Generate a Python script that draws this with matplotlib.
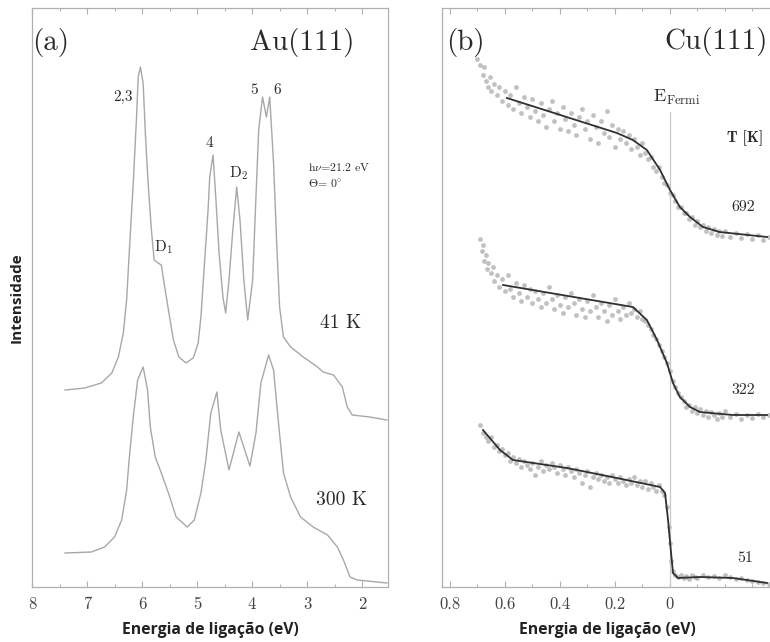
import matplotlib
matplotlib.use("Agg")
import matplotlib.pyplot as plt
from matplotlib.ticker import MultipleLocator, FixedLocator

plt.rcParams['mathtext.fontset'] = 'cm'
plt.rcParams['axes.formatter.use_mathtext'] = True

# ---------------- Panel (a): Au(111) spectra ----------------
au_41K_E = [7.40, 7.04, 6.74, 6.55, 6.43, 6.34, 6.28, 6.23, 6.16, 6.10, 6.07, 6.03, 5.98,
            5.94, 5.89, 5.83, 5.78, 5.71, 5.65, 5.60, 5.52, 5.43, 5.33, 5.20, 5.07, 4.98,
            4.93, 4.87, 4.80, 4.77, 4.71, 4.66, 4.60, 4.53, 4.48, 4.42, 4.35, 4.28, 4.22,
            4.15, 4.08, 3.99, 3.93, 3.88, 3.81, 3.74, 3.68, 3.61, 3.55, 3.50, 3.43, 3.30,
            3.07, 2.81, 2.71, 2.52, 2.36, 2.27, 2.18, 1.86, 1.55]
au_41K_I = [197, 199, 204, 214, 230, 254, 287, 337, 404, 470, 510, 520, 504,
            454, 404, 357, 327, 324, 322, 304, 277, 247, 230, 224, 229, 244,
            270, 320, 377, 410, 432, 390, 334, 290, 274, 307, 357, 400, 367,
            307, 267, 307, 390, 457, 490, 470, 490, 424, 340, 280, 250, 240,
            230, 220, 215, 212, 200, 180, 172, 170, 167]

au_300K_E = [7.40, 6.92, 6.68, 6.50, 6.37, 6.28, 6.23, 6.16, 6.08, 5.98, 5.90, 5.85, 5.76,
             5.65, 5.52, 5.38, 5.18, 5.05, 4.93, 4.84, 4.75, 4.64, 4.57, 4.42, 4.24, 4.04,
             3.93, 3.84, 3.70, 3.61, 3.52, 3.43, 3.30, 3.12, 2.89, 2.63, 2.45, 2.34, 2.22,
             2.09, 1.55]
au_300K_I = [34, 35, 40, 50, 67, 97, 130, 170, 207, 220, 197, 160, 130,
             114, 94, 70, 60, 67, 94, 127, 174, 195, 157, 117, 155, 121,
             154, 204, 232, 217, 164, 114, 90, 70, 60, 52, 40, 27, 10,
             7, 4]

au_xticks = [8, 7, 6, 5, 4, 3, 2]

# ---------------- Panel (b): Cu(111) Fermi edges ----------------
cu_692_fit_E = [0.593, 0.193, 0.135, 0.084, 0.036, 0.0, -0.036, -0.073, -0.12, -0.18, -0.353]
cu_692_fit_I = [489, 454, 447, 437, 417, 397, 380, 370, 360, 355, 350]
cu_692_E = [0.70, 0.69, 0.68, 0.675, 0.67, 0.66, 0.655, 0.65, 0.64, 0.63, 0.62, 0.61, 0.60,
            0.59, 0.58, 0.57, 0.56, 0.55, 0.54, 0.53, 0.52, 0.51, 0.50, 0.49, 0.48, 0.47,
            0.46, 0.45, 0.44, 0.43, 0.42, 0.41, 0.40, 0.39, 0.38, 0.37, 0.36, 0.35, 0.34,
            0.33, 0.32, 0.31, 0.30, 0.29, 0.28, 0.27, 0.26, 0.25, 0.24, 0.23, 0.22, 0.21,
            0.20, 0.19, 0.18, 0.17, 0.16, 0.15, 0.14, 0.13, 0.12, 0.11, 0.10, 0.09, 0.08,
            0.07, 0.06, 0.05, 0.04, 0.03, 0.02, 0.01, 0.00, -0.01, -0.02, -0.03, -0.04,
            -0.05, -0.06, -0.07, -0.08, -0.09, -0.10, -0.11, -0.12, -0.13, -0.14, -0.15,
            -0.16, -0.17, -0.18, -0.19, -0.20, -0.22, -0.24, -0.26, -0.28, -0.30, -0.32,
            -0.34, -0.36]
cu_692_I = [528, 522, 512, 520, 506, 500, 510, 496, 503, 492, 500, 486, 496,
            482, 492, 478, 500, 484, 474, 490, 480, 470, 488, 476, 466, 484,
            472, 460, 478, 486, 466, 474, 458, 480, 468, 456, 474, 462, 452,
            470, 478, 458, 466, 448, 472, 460, 444, 466, 454, 476, 450, 462,
            440, 458, 448, 456, 444, 452, 438, 448, 440, 432, 444, 434, 428,
            430, 420, 416, 420, 410, 404, 402, 394, 392, 386, 380, 380,
            374, 374, 368, 370, 362, 366, 360, 362, 356, 360, 354,
            358, 352, 356, 351, 356, 350, 354, 349, 353, 348, 352,
            347, 350]

cu_322_fit_E = [0.607, 0.135, 0.084, 0.047, 0.011, -0.011, -0.036, -0.073, -0.109, -0.229, -0.353]
cu_322_fit_I = [302, 280, 267, 247, 224, 204, 190, 180, 175, 172, 172]
cu_322_E = [0.69, 0.685, 0.68, 0.675, 0.67, 0.665, 0.66, 0.65, 0.645, 0.64, 0.63, 0.62, 0.61,
            0.60, 0.59, 0.58, 0.57, 0.56, 0.55, 0.54, 0.53, 0.52, 0.51, 0.50, 0.49, 0.48,
            0.47, 0.46, 0.45, 0.44, 0.43, 0.42, 0.41, 0.40, 0.39, 0.38, 0.37, 0.36, 0.35,
            0.34, 0.33, 0.32, 0.31, 0.30, 0.29, 0.28, 0.27, 0.26, 0.25, 0.24, 0.23, 0.22,
            0.21, 0.20, 0.19, 0.18, 0.17, 0.16, 0.15, 0.14, 0.13, 0.12, 0.11, 0.10, 0.09,
            0.08, 0.07, 0.06, 0.05, 0.04, 0.03, 0.02, 0.01, 0.00, -0.01, -0.02, -0.03,
            -0.04, -0.05, -0.06, -0.07, -0.08, -0.09, -0.10, -0.11, -0.12, -0.13, -0.14,
            -0.15, -0.16, -0.17, -0.18, -0.19, -0.20, -0.22, -0.24, -0.26, -0.28, -0.30,
            -0.32, -0.34, -0.36]
cu_322_I = [348, 336, 342, 326, 332, 318, 324, 314, 320, 306, 312, 300, 308,
            296, 312, 298, 290, 304, 294, 286, 302, 290, 298, 284, 296, 288,
            280, 294, 284, 300, 288, 278, 292, 282, 274, 290, 280, 294, 284,
            272, 288, 278, 270, 286, 276, 292, 280, 270, 284, 276, 266, 282,
            272, 288, 276, 268, 280, 272, 284, 274, 278, 270, 276, 268, 266,
            262, 258, 252, 248, 242, 236, 230, 224, 216, 206, 200, 194,
            190, 186, 180, 182, 176, 180, 174, 178, 172, 176, 170,
            175, 172, 168, 174, 170, 176, 170, 173, 168, 172, 169,
            173, 170, 172]

cu_51_fit_E = [0.68, 0.618, 0.571, 0.375, 0.193, 0.036, 0.018, 0.007, -0.004, -0.011,
               -0.029, -0.109, -0.229, -0.353]
cu_51_fit_I = [157, 137, 127, 119, 109, 100, 94, 67, 34, 14, 9, 10, 9, 4]
cu_51_E = [0.69, 0.68, 0.67, 0.66, 0.65, 0.64, 0.63, 0.62, 0.61, 0.60, 0.59, 0.58, 0.57,
           0.56, 0.55, 0.54, 0.53, 0.52, 0.51, 0.50, 0.49, 0.48, 0.47, 0.46, 0.45, 0.44,
           0.43, 0.42, 0.41, 0.40, 0.39, 0.38, 0.37, 0.36, 0.35, 0.34, 0.33, 0.32, 0.31,
           0.30, 0.29, 0.28, 0.27, 0.26, 0.25, 0.24, 0.23, 0.22, 0.21, 0.20, 0.19, 0.18,
           0.17, 0.16, 0.15, 0.14, 0.13, 0.12, 0.11, 0.10, 0.09, 0.08, 0.07, 0.06, 0.05,
           0.04, 0.03, 0.02, 0.01, 0.005, 0.00, -0.005, -0.01, -0.02, -0.03, -0.04, -0.05,
           -0.06, -0.07, -0.08, -0.09, -0.10, -0.12, -0.14, -0.16, -0.18, -0.20, -0.22,
           -0.24, -0.26, -0.28, -0.30, -0.32, -0.34, -0.36]
cu_51_I = [162, 154, 150, 146, 150, 140, 142, 136, 138, 132, 134, 126, 130,
           124, 128, 120, 126, 122, 118, 124, 112, 120, 126, 116, 122, 118,
           124, 120, 114, 122, 118, 112, 120, 116, 110, 118, 114, 104, 112,
           116, 100, 110, 114, 108, 112, 106, 110, 104, 112, 108, 104, 110,
           106, 102, 108, 104, 110, 102, 106, 100, 106, 98, 104, 100, 96,
           102, 96, 92, 80, 60, 44, 26, 16, 12, 10, 12, 9,
           11, 8, 12, 10, 9, 12, 10, 11, 9, 12, 10,
           8, 9, 7, 6, 5, 4, 3]

cu_xticks = [0.8, 0.6, 0.4, 0.2, 0]
cu_temps = ['692', '322', '51']

# ---------------- Figure ----------------
W, H = 770, 642
fig = plt.figure(figsize=(W / 100, H / 100), dpi=100)

def px_axes(l, t, r, b):
    return fig.add_axes([l / W, (H - b) / H, (r - l) / W, (b - t) / H])

spine_c = '#b0b0b0'
text_c = '#2a2a2a'
serif = 'cmr10'
sans = 'Open Sans'

axa = px_axes(32, 8, 388, 587)
axb = px_axes(442, 8, 772, 587)

for ax in (axa, axb):
    for s in ax.spines.values():
        s.set_color(spine_c)
        s.set_linewidth(0.9)
    ax.set_ylim(0, 579)
    ax.set_yticks([])
    ax.tick_params(axis='x', which='both', direction='in', top=True, bottom=True,
                   color=spine_c, labelsize=12, labelcolor='#444444', pad=7)
    ax.tick_params(axis='x', which='major', length=4, width=0.8)
    ax.tick_params(axis='x', which='minor', length=2.5, width=0.7)
    ax.set_xlabel('Energia de ligação (eV)', family=sans, fontweight='bold',
                  fontsize=11.3, color='#222222', labelpad=7)

axb.spines['right'].set_visible(False)

# Panel (a)
axa.plot(au_41K_E, au_41K_I, color='#a8a8a8', lw=1.0)
axa.plot(au_300K_E, au_300K_I, color='#a8a8a8', lw=1.0)
axa.set_xlim(8.0, 1.53)
axa.xaxis.set_major_locator(FixedLocator(au_xticks))
axa.xaxis.set_minor_locator(MultipleLocator(0.5))
axa.set_xticklabels([str(t) for t in au_xticks], family=serif)
axa.set_ylabel('Intensidade', family=sans, fontweight='bold', fontsize=11,
               color='#222222', labelpad=6)

ta = dict(color=text_c, family=serif, ha='center', va='center')
axa.text(0.0, 0.941, '(a)', transform=axa.transAxes, fontsize=21,
         color=text_c, family=serif, ha='left', va='center')
axa.text(0.905, 0.941, 'Au(111)', transform=axa.transAxes, fontsize=21,
         color=text_c, family=serif, ha='right', va='center')
axa.text(6.35, 490, '2,3', fontsize=11, **ta)
axa.text(4.77, 444, '4', fontsize=11, **ta)
axa.text(3.97, 497, '5', fontsize=11, **ta)
axa.text(3.54, 497, '6', fontsize=11, **ta)
axa.text(4.24, 414, r'D$_\mathregular{2}$', fontsize=11, **ta)
axa.text(5.61, 340, r'D$_\mathregular{1}$', fontsize=11, **ta)
axa.text(2.99, 420, r'h$\nu$=21.2 eV', fontsize=8.5, color=text_c, family=serif,
         ha='left', va='center')
axa.text(2.99, 403, r'$\Theta$= 0$^{\circ}$', fontsize=8.5, color=text_c, family=serif,
         ha='left', va='center')
axa.text(2.40, 264, '41 K', fontsize=14, **ta)
axa.text(2.38, 87, '300 K', fontsize=14, **ta)

# Panel (b)
axb.set_xlim(0.829, -0.371)
axb.axvline(0, ymin=0, ymax=475 / 579, color='#c8c8c8', lw=0.9)
for E, I in ((cu_692_E, cu_692_I), (cu_322_E, cu_322_I), (cu_51_E, cu_51_I)):
    axb.scatter(E, I, s=12, color='#a0a0a0', alpha=0.65, linewidths=0)
for E, I in ((cu_692_fit_E, cu_692_fit_I), (cu_322_fit_E, cu_322_fit_I),
             (cu_51_fit_E, cu_51_fit_I)):
    axb.plot(E, I, color='#303030', lw=1.3)
axb.xaxis.set_major_locator(FixedLocator(cu_xticks))
axb.xaxis.set_minor_locator(MultipleLocator(0.1))
axb.set_xticklabels(['0.8', '0.6', '0.4', '0.2', '0'], family=serif)

axb.text(0.012, 0.941, '(b)', transform=axb.transAxes, fontsize=21,
         color=text_c, family=serif, ha='left', va='center')
fig.text(768 / W, 1 - 42 / H, 'Cu(111)', fontsize=21,
         color=text_c, family=serif, ha='right', va='center')
axb.text(-0.025, 490, r'$\mathrm{E}_{\mathrm{Fermi}}$', fontsize=13, color=text_c,
         ha='center', va='center')
axb.text(-0.273, 449, 'T [K]', fontsize=11, color=text_c, family='cmb10',
         ha='center', va='center')
label_y = [380, 197, 29]
label_x = [-0.265, -0.265, -0.273]
for t, x, y in zip(cu_temps, label_x, label_y):
    axb.text(x, y, t, fontsize=11.5, color=text_c, family=serif, ha='center', va='center')

fig.savefig('out.png', dpi=100)
